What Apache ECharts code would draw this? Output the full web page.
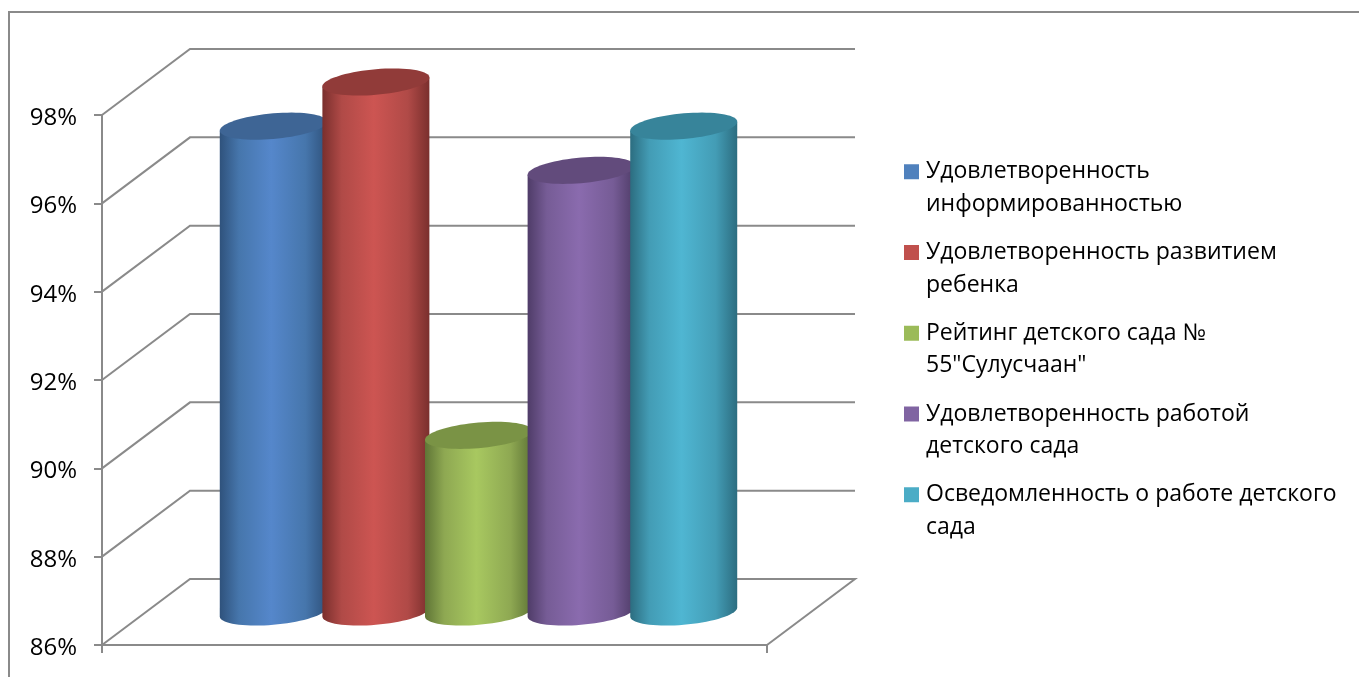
<!DOCTYPE html>
<html>
<head>
<meta charset="utf-8">
<style>html,body{margin:0;padding:0;background:#fff;overflow:hidden}#c{width:1359px;height:677px}</style>
<script src="https://cdn.jsdelivr.net/npm/echarts@6/dist/echarts.min.js"></script>
</head>
<body>
<div id="c"></div>
<script>
const categories = [''];
const seriesNames = [
  'Удовлетворенность информированностью',
  'Удовлетворенность развитием ребенка',
  'Рейтинг детского сада № 55"Сулусчаан"',
  'Удовлетворенность работой детского сада',
  'Осведомленность о работе детского сада'
];
const legendLines = [
  ['Удовлетворенность', 'информированностью'],
  ['Удовлетворенность развитием', 'ребенка'],
  ['Рейтинг детского сада №', '55"Сулусчаан"'],
  ['Удовлетворенность работой', 'детского сада'],
  ['Осведомленность о работе детского', 'сада']
];
const values = [97, 98, 90, 96, 97];
const tickValues = [86, 88, 90, 92, 94, 96, 98];
const legendColors = ['#4f81bd', '#c0504d', '#9bbb59', '#8064a2', '#4bacc6'];
const bodyStops = [
  ['#2f527c', '#4676ac', '#5587cb', '#4676ac', '#2f527c'],
  ['#7a2f2d', '#b04a47', '#cd5552', '#b04a47', '#7a2f2d'],
  ['#5f7536', '#8ea852', '#a8c860', '#8ea852', '#5f7536'],
  ['#4f3c68', '#765c96', '#8a6bae', '#765c96', '#4f3c68'],
  ['#2c6d80', '#439cb5', '#4fb6d2', '#439cb5', '#2c6d80']
];
const capColors = ['#3e6595', '#913b39', '#7a9345', '#624b7c', '#37849a'];

const FONT = '"Open Sans", "Noto Sans", sans-serif';
const DEPTH_X = 88, DEPTH_Y = -66, AXIS_COLOR = '#8a8a8a', AXIS_WIDTH = 2;

function ringPoint(cx, cy, t) {
  const a = 53.5, b = 12.8, s = 4.5;
  return [cx + a * Math.cos(t), cy + b * Math.sin(t) - s * Math.cos(t)];
}

function renderWall(params, api) {
  const y = api.coord([0, api.value(0)])[1];
  const sys = params.coordSys;
  const left = sys.x, right = sys.x + sys.width;
  const pts = [[left, y], [left + DEPTH_X, y + DEPTH_Y], [right + DEPTH_X, y + DEPTH_Y]];
  if (params.dataIndex === 0) pts.push([right, y]);
  return {
    type: 'polyline',
    shape: { points: pts },
    style: { stroke: AXIS_COLOR, lineWidth: AXIS_WIDTH, fill: null }
  };
}

function renderCylinder(params, api) {
  const idx = params.seriesIndex - 1;
  const band = api.size([1, 0])[0];
  const step = band * 0.1543;
  const top = api.coord([0, api.value(1)]);
  const base = api.coord([0, tickValues[0]]);
  const cx = top[0] + (idx - 2) * step + DEPTH_X / 2;
  const topY = top[1] + DEPTH_Y / 2;
  const baseY = base[1] + DEPTH_Y / 2;
  const cap = [], body = [];
  for (let i = 0; i < 72; i++) cap.push(ringPoint(cx, topY, i / 72 * Math.PI * 2));
  body.push(ringPoint(cx, topY, 0));
  for (let i = 0; i <= 36; i++) body.push(ringPoint(cx, baseY, i / 36 * Math.PI));
  body.push(ringPoint(cx, topY, Math.PI));
  const st = bodyStops[idx];
  return {
    type: 'group',
    children: [
      {
        type: 'polygon',
        shape: { points: body },
        style: {
          fill: {
            type: 'linear', x: 0, y: 0, x2: 1, y2: 0,
            colorStops: [
              { offset: 1, color: st[0] },
              { offset: 0.8, color: st[1] },
              { offset: 0.48, color: st[2] },
              { offset: 0.18, color: st[3] },
              { offset: 0, color: st[4] }
            ]
          }
        }
      },
      { type: 'polygon', shape: { points: cap }, style: { fill: capColors[idx] } }
    ]
  };
}

const series = [{
  type: 'custom', name: 'walls', silent: true,
  renderItem: renderWall,
  data: tickValues.map(v => [v]),
  encode: { y: 0 }
}].concat(seriesNames.map((n, i) => ({
  type: 'custom', name: n, silent: true,
  renderItem: renderCylinder,
  itemStyle: { color: legendColors[i] },
  data: [[0, values[i]]],
  encode: { x: 0, y: 1 }
})));

const chart = echarts.init(document.getElementById('c'), null, { renderer: 'canvas' });
chart.setOption({
  animation: false,
  backgroundColor: '#fff',
  graphic: [{
    type: 'rect', silent: true,
    shape: { x: 9, y: 12, width: 1500, height: 800 },
    style: { fill: null, stroke: AXIS_COLOR, lineWidth: AXIS_WIDTH }
  }],
  grid: { left: 102, right: 592, top: 115, bottom: 32, containLabel: false },
  xAxis: {
    type: 'category', data: categories,
    axisLine: { lineStyle: { color: AXIS_COLOR, width: AXIS_WIDTH } },
    axisTick: { show: true, length: 8, lineStyle: { color: AXIS_COLOR, width: AXIS_WIDTH } },
    axisLabel: { show: false }, splitLine: { show: false }
  },
  yAxis: {
    type: 'value', min: 86, max: 98, interval: 2,
    axisLine: { show: true, lineStyle: { color: AXIS_COLOR, width: AXIS_WIDTH } },
    axisTick: { show: true, length: 8, lineStyle: { color: AXIS_COLOR, width: AXIS_WIDTH } },
    splitLine: { show: false },
    axisLabel: {
      formatter: '{v|{value}%}', margin: 25,
      rich: { v: { color: '#000', fontFamily: FONT, fontSize: 24, padding: [6, 0, 0, 0] } }
    }
  },
  legend: {
    data: seriesNames, orient: 'vertical', left: 904, top: 123, padding: 0,
    icon: 'rect', itemWidth: 15, itemHeight: 15, itemGap: -16.75,
    selectedMode: false,
    textStyle: { color: '#000', fontFamily: FONT, fontSize: 23, lineHeight: 32.5, padding: [0, 0, 0, 2] },
    formatter: name => '\n' + legendLines[seriesNames.indexOf(name)].join('\n')
  },
  series
});
</script>
</body>
</html>
